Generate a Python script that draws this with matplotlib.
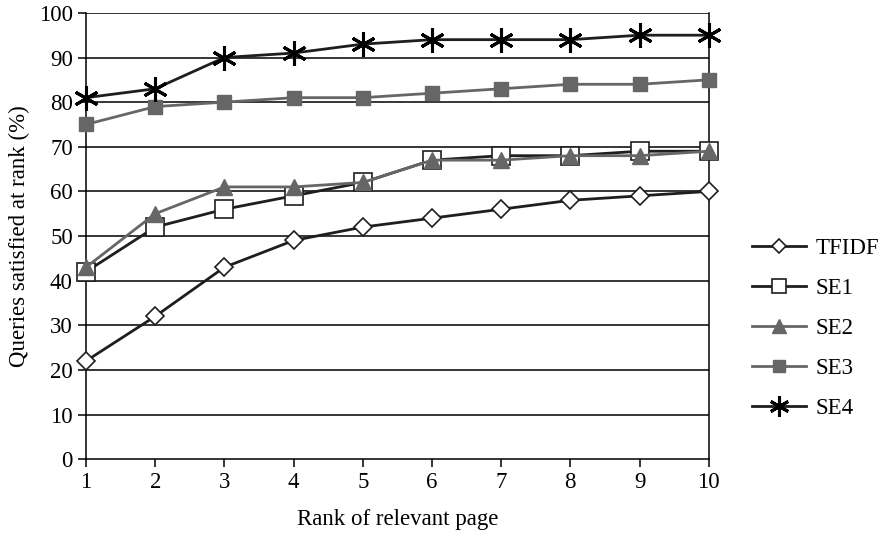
import matplotlib
matplotlib.use("Agg")
import matplotlib.pyplot as plt

plt.rcParams['font.family'] = ['Liberation Serif', 'DejaVu Serif']

ranks = [1, 2, 3, 4, 5, 6, 7, 8, 9, 10]
tfidf = [22, 32, 43, 49, 52, 54, 56, 58, 59, 60]
se1 = [42, 52, 56, 59, 62, 67, 68, 68, 69, 69]
se2 = [43, 55, 61, 61, 62, 67, 67, 68, 68, 69]
se3 = [75, 79, 80, 81, 81, 82, 83, 84, 84, 85]
se4 = [81, 83, 90, 91, 93, 94, 94, 94, 95, 95]
series_names = ["TFIDF", "SE1", "SE2", "SE3", "SE4"]
y_ticks = [0, 10, 20, 30, 40, 50, 60, 70, 80, 90, 100]

dark = "#1e1e1e"
grey = "#666666"
fs = 16.5

fig = plt.figure(figsize=(8.87, 5.37), dpi=100)
ax = fig.add_axes([0.097, 0.145, 0.702, 0.831])

for yv in y_ticks[1:]:
    ax.axhline(yv, color="black", lw=1.1, zorder=1)

styles = [
    dict(color=dark, marker="D", ms=9, mfc="white", mec=dark, mew=1.2),
    dict(color=dark, marker="s", ms=13, mfc="white", mec=dark, mew=1.2),
    dict(color=grey, marker="^", ms=12, mfc=grey, mec=grey),
    dict(color=grey, marker="s", ms=10, mfc=grey, mec=grey),
    dict(color=dark, marker=(6, 2, 0), ms=18, mec="black", mew=2.2),
]
data = [tfidf, se1, se2, se3, se4]
handles = []
for name, vals, st in zip(series_names, data, styles):
    ln, = ax.plot(ranks, vals, lw=2, label=name, zorder=3, clip_on=False, **st)
    handles.append(ln)

ax.set_xlim(1, 10)
ax.set_ylim(0, 100)
ax.set_xticks(ranks)
ax.set_yticks(y_ticks)
ax.tick_params(labelsize=fs, length=6, width=1.1, pad=3.5, colors="black")
for s in ["left", "bottom", "right"]:
    ax.spines[s].set_linewidth(1.1)
ax.spines["top"].set_visible(False)

ax.set_xlabel("Rank of relevant page", fontsize=fs, labelpad=11)
ax.set_ylabel("Queries satisfied at rank (%)", fontsize=fs, labelpad=6)

leg = fig.legend(handles=handles, loc="center left", bbox_to_anchor=(0.848, 0.388),
                 frameon=False, fontsize=fs, handlelength=2.35, labelspacing=0.82,
                 handletextpad=0.42, borderpad=0, borderaxespad=0, markerscale=0.8)

fig.savefig("out.png", dpi=100)
